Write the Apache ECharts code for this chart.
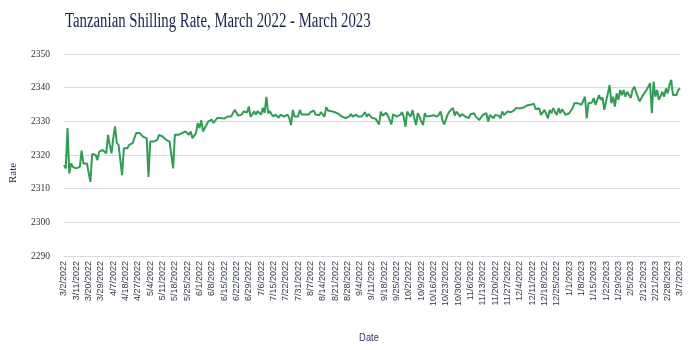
<!DOCTYPE html>
<html>
<head>
<meta charset="utf-8">
<script src="https://cdn.jsdelivr.net/npm/echarts@6/dist/echarts.min.js"></script>
<style>html,body{margin:0;padding:0;background:#fff}#c{width:699px;height:350px}</style>
</head>
<body>
<div id="c"></div>
<script>
const titleText = 'Tanzanian Shilling Rate, March 2022 - March 2023';
const yAxisName = 'Rate';
const xAxisName = 'Date';
const yTicks = [2290, 2300, 2310, 2320, 2330, 2340, 2350];
const tickDates = ['3/2/2022','3/11/2022','3/20/2022','3/29/2022','4/7/2022','4/18/2022','4/27/2022','5/4/2022','5/11/2022','5/18/2022','5/25/2022','6/1/2022','6/8/2022','6/15/2022','6/22/2022','6/29/2022','7/6/2022','7/15/2022','7/22/2022','7/31/2022','8/7/2022','8/14/2022','8/21/2022','8/28/2022','9/4/2022','9/11/2022','9/18/2022','9/25/2022','10/2/2022','10/9/2022','10/16/2022','10/23/2022','10/30/2022','11/6/2022','11/13/2022','11/20/2022','11/27/2022','12/4/2022','12/11/2022','12/18/2022','12/25/2022','1/1/2023','1/8/2023','1/15/2023','1/22/2023','1/29/2023','2/5/2023','2/12/2023','2/21/2023','2/28/2023','3/7/2023'];
// one row per labelled week (7 observations each)
const rate = [
2317,2316,2328,2314.5,2317.5,2316.5,2316.5,
2316,2316.5,2316.5,2321.3,2317.5,2317.5,2317.5,
2317,2312,2320.3,2320.5,2320,2318.5,2321,
2320.5,2321.5,2321.5,2320.5,2326,2323,2320.5,
2325,2328.5,2323.6,2323,2322.7,2314,2322,
2322,2322,2323,2323,2323.5,2325,2326.5,
2327,2326.5,2327,2325.4,2325.5,2325,2313.5,
2324,2324,2324,2323.5,2324.5,2326,2325.5,
2325.5,2325,2324.5,2324.5,2324,2323.5,2316,
2326,2326.3,2326,2326,2326.5,2326.5,2327,
2326.5,2326,2327,2325,2325.5,2326.5,2329.5,
2328,2330.3,2327,2328,2329,2330,2330.5,
2330.5,2329.5,2330,2331,2330.5,2331,2330.8,
2330.8,2331.2,2331.4,2331,2331.4,2332.5,2333.4,
2333.2,2331.7,2331.5,2332,2332.9,2332.5,2332.6,
2334.4,2331.4,2332,2333,2332,2333,2332.5,
2332,2334,2332.5,2337.3,2332.4,2333,2332,
2331.4,2332,2331.6,2331.1,2332,2331.7,2331.4,
2331.8,2332,2331,2328.9,2333.4,2331.4,2331.6,
2331.4,2333.4,2332,2332.2,2332,2331.8,2332,
2332.7,2332.4,2333.2,2332,2331.8,2331.8,2332.7,
2332.2,2331.4,2334.2,2333.2,2332.8,2333,2332.5,
2332.7,2333,2332.2,2331.8,2331.4,2331.2,2331,
2331.2,2331.4,2332.2,2331.4,2331.8,2332,2331.4,
2331,2331.4,2332,2332.7,2331.4,2332.2,2331.6,
2331,2331.3,2330.8,2330.4,2329.1,2332.9,2331.7,
2332,2332.5,2331.7,2332.2,2329.1,2332.1,2331.8,
2331.4,2331.7,2331.9,2332.7,2331.4,2328.4,2332.9,
2332,2331.4,2333.4,2331,2328.9,2332.4,2331.4,
2330,2328.9,2332.4,2331.4,2331.9,2331.6,2331.4,
2331.8,2332.2,2331.4,2332,2332.9,2330.4,2329.1,
2330.5,2332,2332.9,2333.2,2334,2331.7,2332.9,
2332.2,2331.4,2332.2,2331.8,2331.4,2331.2,2331,
2332.1,2332.2,2332.4,2331.4,2331,2330.4,2331.2,
2331.9,2332.2,2332.4,2329.9,2331.9,2331.6,2330.9,
2331.9,2331.7,2331.7,2330.9,2332.9,2331.9,2332.4,
2332.9,2332.4,2332.7,2332.9,2333.4,2334,2333.7,
2333.8,2334,2334.1,2334.2,2334.7,2334.2,2334.9,
2335.4,2335.2,2333.6,2333.1,2333.9,2331.9,2331.4,
2333.4,2332.2,2330.9,2333.4,2332.4,2333.9,2332.8,
2331.9,2333.9,2332.4,2333.6,2332.8,2331.9,2332.4,
2332.4,2332.6,2333.9,2335.4,2335.2,2335.4,2335.9,
2334.9,2335.4,2337.3,2330.9,2335.4,2334.9,2335.6,
2336.9,2334.9,2336.4,2337.8,2336.4,2337.1,2333.4,
2335.9,2338.3,2340.8,2335.4,2337.3,2334.4,2338.3,
2336.4,2339.3,2337.8,2339.3,2337.3,2338.8,2338.3,
2336.9,2339.3,2340.3,2339.8,2337.3,2335.9,2335.4,
2337.8,2338.3,2339.3,2339.8,2341.3,2332.4,2341.8,
2337.3,2339.3,2336.4,2337.5,2338.8,2337.3,2339.8,
2338.3,2340.8,2342.3,2337.8,2337.3,2337.8,2339.3,
2339.8
];

// build category dates: each labelled date followed by the 6 observations before the next label
function parseD(s){const p=s.split('/').map(Number);return new Date(p[2],p[0]-1,p[1]);}
function fmt(d){return (d.getMonth()+1)+'/'+d.getDate()+'/'+d.getFullYear();}
const categories = [];
for (let k = 0; k < tickDates.length - 1; k++) {
  const a = parseD(tickDates[k]), b = parseD(tickDates[k+1]);
  const span = Math.round((b - a) / 86400000);
  categories.push(tickDates[k]);
  for (let j = 1; j < 7; j++) {
    const d = new Date(a.getTime());
    d.setDate(d.getDate() + Math.round(j * span / 7));
    categories.push(fmt(d));
  }
}
categories.push(tickDates[tickDates.length - 1]);

const chart = echarts.init(document.getElementById('c'), null, {renderer: 'canvas'});
chart.setOption({
  animation: false,
  backgroundColor: '#ffffff',
  grid: {left: 64, right: 19, top: 54, bottom: 94},
  graphic: [
    {type: 'text', x: 65, y: 12, scaleX: 0.74,
     style: {text: titleText, font: '20px "Liberation Serif", serif', fill: '#1a2150'}},
    {type: 'text', x: 13, y: 173, rotation: Math.PI / 2,
     style: {text: yAxisName, font: '11px "Liberation Serif", serif', fill: '#1c2353', textAlign: 'center', textVerticalAlign: 'middle'}},
    {type: 'text', x: 369, y: 338, scaleX: 0.85,
     style: {text: xAxisName, font: '11px "Liberation Sans", Arial, sans-serif', fill: '#2c3a5c', textAlign: 'center', textVerticalAlign: 'middle'}}
  ],
  xAxis: {
    type: 'category',
    data: categories,
    boundaryGap: false,
    axisLine: {show: false},
    axisTick: {show: false},
    splitLine: {show: false},
    axisLabel: {interval: 6, rotate: 90, margin: 5, fontSize: 9,
      fontFamily: '"Liberation Sans", Arial, sans-serif', color: '#333a4a'}
  },
  yAxis: {
    type: 'value',
    min: yTicks[0], max: yTicks[yTicks.length - 1], interval: 10,
    axisLine: {show: false},
    axisTick: {show: false},
    splitLine: {lineStyle: {color: '#d9d9d9', width: 1}},
    axisLabel: {margin: 14, fontSize: 9.5, fontFamily: '"Liberation Serif", serif', color: '#333333',
      formatter: function (v) { return String(v); }}
  },
  series: [{
    type: 'line',
    data: rate,
    showSymbol: false,
    symbol: 'none',
    lineStyle: {color: '#2f9e55', width: 2},
    itemStyle: {color: '#2f9e55'}
  }]
});
</script>
</body>
</html>
